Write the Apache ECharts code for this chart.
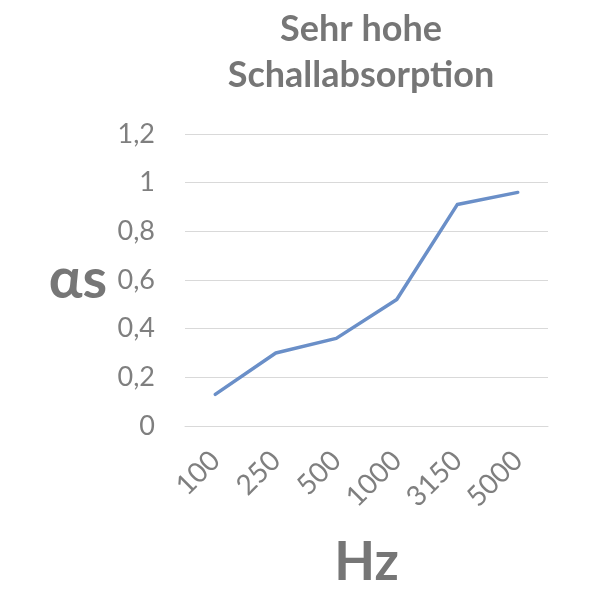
<!DOCTYPE html>
<html>
<head>
<meta charset="utf-8">
<script src="https://cdn.jsdelivr.net/npm/echarts@6/dist/echarts.min.js"></script>
<style>html,body{margin:0;padding:0;background:#fff}#c{width:600px;height:600px}</style>
</head>
<body>
<div id="c"></div>
<script>
var categories = ['100', '250', '500', '1000', '3150', '5000'];
var values = [0.13, 0.30, 0.36, 0.52, 0.91, 0.96];
var titleText = 'Sehr hohe\nSchallabsorption';
var FONT = 'Lato';
var chart = echarts.init(document.getElementById('c'));
chart.setOption({
  animation: false,
  backgroundColor: '#fff',
  title: {
    text: titleText,
    left: 356, top: 1, textAlign: 'center',
    textStyle: { fontFamily: FONT, fontWeight: 'bold', fontSize: 36, lineHeight: 46, color: '#767676' }
  },
  grid: { left: 185, right: 52, top: 134, bottom: 174 },
  xAxis: {
    type: 'category',
    data: categories,
    boundaryGap: true,
    name: 'Hz', nameLocation: 'middle', nameGap: 110,
    nameTextStyle: { fontFamily: FONT, fontWeight: 'bold', fontSize: 53, color: '#767676' },
    axisLine: { show: true, lineStyle: { color: '#d9d9d9', width: 1 } },
    axisTick: { show: false },
    axisLabel: { rotate: 45, margin: 30, fontFamily: FONT, fontSize: 28, color: '#7f7f7f' }
  },
  yAxis: {
    type: 'value', min: 0, max: 1.2, interval: 0.2,
    name: 'αs', nameLocation: 'middle', nameRotate: 0, nameGap: 78,
    nameTextStyle: { fontFamily: FONT, fontWeight: 'bold', fontSize: 56, color: '#767676', padding: [24, 0, 0, 0] },
    axisLine: { show: false }, axisTick: { show: false },
    splitLine: { lineStyle: { color: '#d9d9d9', width: 1 } },
    axisLabel: {
      margin: 30, fontFamily: FONT, fontSize: 27, color: '#7f7f7f',
      formatter: function (v) { return String(Math.round(v * 10) / 10).replace('.', ','); }
    }
  },
  series: [{
    type: 'line', data: values, symbol: 'none',
    lineStyle: { color: '#6a8fc8', width: 3.5, cap: 'round', join: 'round' }
  }]
});
</script>
</body>
</html>
